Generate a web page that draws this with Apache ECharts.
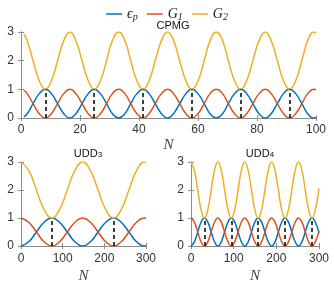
<!DOCTYPE html>
<html><head><meta charset="utf-8">
<script src="https://cdn.jsdelivr.net/npm/echarts@6/dist/echarts.min.js"></script>
<style>html,body{margin:0;padding:0;background:#fff}#c{width:334px;height:285px}</style>
</head><body><div id="c"></div>
<script>
// ---- CPMG ----
const cpmgN = [1,2.1,4.1,6.2,8.3,10.3,12.4,14.5,16.6,18.6,20.7,22.8,24.8,26.9,29,31,33.1,35.2,37.2,39.3,41.4,43.4,45.5,47.6,49.7,51.7,53.8,55.9,57.9,60,62.1,64.1,66.2,68.3,70.3,72.4,74.5,76.5,78.6,80.7,82.8,84.8,86.9,89,91,93.1,95.2,97.2,99.3,100];
const cpmgEps = [0.04,
 0.15,0.5,0.85,1,0.85,0.5,0.15,0,
 0.15,0.5,0.85,1,0.85,0.5,0.15,0,
 0.15,0.5,0.85,1,0.85,0.5,0.15,0,
 0.15,0.5,0.85,1,0.85,0.5,0.15,0,
 0.15,0.5,0.85,1,0.85,0.5,0.15,0,
 0.15,0.5,0.85,1,0.85,0.5,0.15,0,
 0.02];
const cpmgG1 = [0.96,
 0.85,0.5,0.15,0,0.15,0.5,0.85,1,
 0.85,0.5,0.15,0,0.15,0.5,0.85,1,
 0.85,0.5,0.15,0,0.15,0.5,0.85,1,
 0.85,0.5,0.15,0,0.15,0.5,0.85,1,
 0.85,0.5,0.15,0,0.15,0.5,0.85,1,
 0.85,0.5,0.15,0,0.15,0.5,0.85,1,
 0.98];
const cpmgG2 = [2.92,
 2.7,2,1.3,1,1.3,2,2.7,3,
 2.7,2,1.3,1,1.3,2,2.7,3,
 2.7,2,1.3,1,1.3,2,2.7,3,
 2.7,2,1.3,1,1.3,2,2.7,3,
 2.7,2,1.3,1,1.3,2,2.7,3,
 2.7,2,1.3,1,1.3,2,2.7,3,
 2.96];
const cpmgPeaks = [8.3,24.8,41.4,57.9,74.5,91];

// ---- UDD3 ----
const udd3N = [0,18.5,37,55.5,74,92.5,111,129.5,148,166.5,185,203.5,222,240.5,259,277.5,296,300];
const udd3Eps = [0,0.15,0.5,0.85,1,0.85,0.5,0.15,0,0.15,0.5,0.85,1,0.85,0.5,0.15,0,0.01];
const udd3G1 = [1,0.85,0.5,0.15,0,0.15,0.5,0.85,1,0.85,0.5,0.15,0,0.15,0.5,0.85,1,0.99];
const udd3G2 = [3,2.7,2,1.3,1,1.3,2,2.7,3,2.7,2,1.3,1,1.3,2,2.7,3,2.98];
const udd3Peaks = [74,222];

// ---- UDD4 ----
const udd4N = [0,7.9,15.8,23.6,31.5,39.4,47.3,55.1,63,70.9,78.8,86.6,94.5,102.4,110.3,118.1,126,133.9,141.8,149.6,157.5,165.4,173.3,181.1,189,196.9,204.8,212.6,220.5,228.4,236.3,244.1,252,259.9,267.8,275.6,283.5,291.4,300];
const udd4Eps = [0,
 0.15,0.5,0.85,1,0.85,0.5,0.15,0,
 0.15,0.5,0.85,1,0.85,0.5,0.15,0,
 0.15,0.5,0.85,1,0.85,0.5,0.15,0,
 0.15,0.5,0.85,1,0.85,0.5,0.15,0,
 0.15,0.5,0.85,1,0.85,0.47];
const udd4G1 = [1,
 0.85,0.5,0.15,0,0.15,0.5,0.85,1,
 0.85,0.5,0.15,0,0.15,0.5,0.85,1,
 0.85,0.5,0.15,0,0.15,0.5,0.85,1,
 0.85,0.5,0.15,0,0.15,0.5,0.85,1,
 0.85,0.5,0.15,0,0.15,0.53];
const udd4G2 = [3,
 2.7,2,1.3,1,1.3,2,2.7,3,
 2.7,2,1.3,1,1.3,2,2.7,3,
 2.7,2,1.3,1,1.3,2,2.7,3,
 2.7,2,1.3,1,1.3,2,2.7,3,
 2.7,2,1.3,1,1.3,2.06];
const udd4Peaks = [31.5,94.5,157.5,220.5,283.5];

const xTicks = [[0,100,20],[0,300,100],[0,300,100]];
const yTicks = [0,3,1];
const seriesNames = ['eps','G1','G2'];
const colors = ['#0072BD','#D95319','#EDB120'];

const chart = echarts.init(document.getElementById('c'), null, {renderer:'canvas'});
const gray = '#8c8c8c';
const labelFont = 'Liberation Sans';
const serif = 'Liberation Serif';
const grids = [
  {left:21, top:32, width:295, height:86},
  {left:21, top:162, width:125, height:85},
  {left:191, top:162, width:128, height:85}
];
const panels = [
  [cpmgN,cpmgEps,cpmgG1,cpmgG2,cpmgPeaks],
  [udd3N,udd3Eps,udd3G1,udd3G2,udd3Peaks],
  [udd4N,udd4Eps,udd4G1,udd4G2,udd4Peaks]
];
const xAxes=[], yAxes=[], series=[];
const nameGaps=[20,23,23];
grids.forEach((g,i)=>{
  const [mn,mx,iv]=xTicks[i];
  const common = {min:mn,max:mx,interval:iv,gridIndex:i,splitLine:{show:false},
    axisLine:{show:true,lineStyle:{color:gray,width:1}},
    axisTick:{show:true,inside:true,length:3,lineStyle:{color:gray}}};
  xAxes.push(Object.assign({type:'value',position:'bottom',
    axisLabel:{color:'#333',fontFamily:labelFont,fontSize:12,margin:i===0?6:7},
    name:'N',nameLocation:'middle',nameGap:nameGaps[i],
    nameTextStyle:{fontFamily:serif,fontStyle:'italic',fontSize:15,color:'#444'}},common));
  xAxes.push(Object.assign({type:'value',position:'top',axisLabel:{show:false}},common));
  const yc = {min:yTicks[0],max:yTicks[1],interval:yTicks[2],gridIndex:i,splitLine:{show:false},
    axisLine:{show:true,lineStyle:{color:gray,width:1}},
    axisTick:{show:true,inside:true,length:3,lineStyle:{color:gray}}};
  yAxes.push(Object.assign({type:'value',position:'left',
    axisLabel:{color:'#333',fontFamily:labelFont,fontSize:12,margin:7}},yc));
  yAxes.push(Object.assign({type:'value',position:'right',axisLabel:{show:false}},yc));
  const p = panels[i];
  const N = p[0];
  [p[1],p[2],p[3]].forEach((vals,k)=>{
    series.push({type:'line',name:seriesNames[k],xAxisIndex:2*i,yAxisIndex:2*i,
      data:N.map((n,j)=>[n,vals[j]]),symbol:'none',showSymbol:false,smooth:0.5,
      lineStyle:{color:colors[k],width:1.5},itemStyle:{color:colors[k]},
      animation:false,clip:true,
      markLine: k===2 ? {symbol:'none',silent:true,animation:false,label:{show:false},
        lineStyle:{type:[4,3],color:'#000',width:1.5},
        data:p[4].map(x=>[{coord:[x,0]},{coord:[x,1]}])} : undefined});
  });
});

const legendRich = {
  i:{fontFamily:serif,fontStyle:'italic',fontSize:14,color:'#222'},
  s:{fontFamily:serif,fontStyle:'italic',fontSize:10,color:'#222',padding:[7,0,0,0]}
};
const titleRich = {
  a:{fontFamily:labelFont,fontSize:11,color:'#111',fontWeight:'normal'},
  b:{fontFamily:labelFont,fontSize:8,color:'#111',fontWeight:'normal',padding:[3,0,0,0]}
};
chart.setOption({
  animation:false,
  grid:grids.map(g=>Object.assign({containLabel:false},g)),
  xAxis:xAxes, yAxis:yAxes, series:series,
  legend:{data:seriesNames,top:2,left:'center',icon:'rect',itemWidth:16,itemHeight:1.5,itemGap:9,
    formatter:function(n){
      if(n==='eps') return '{i|ϵ}{s|p}';
      if(n==='G1') return '{i|G}{s|1}';
      return '{i|G}{s|2}';
    },
    textStyle:{rich:legendRich}},
  title:[
    {text:'{a|CPMG}',left:168,top:15,textAlign:'center',textStyle:{fontWeight:'normal',rich:titleRich}},
    {text:'{a|UDD}{b|3}',left:83,top:143,textAlign:'center',textStyle:{fontWeight:'normal',rich:titleRich}},
    {text:'{a|UDD}{b|4}',left:255,top:143,textAlign:'center',textStyle:{fontWeight:'normal',rich:titleRich}}
  ]
});
</script></body></html>
